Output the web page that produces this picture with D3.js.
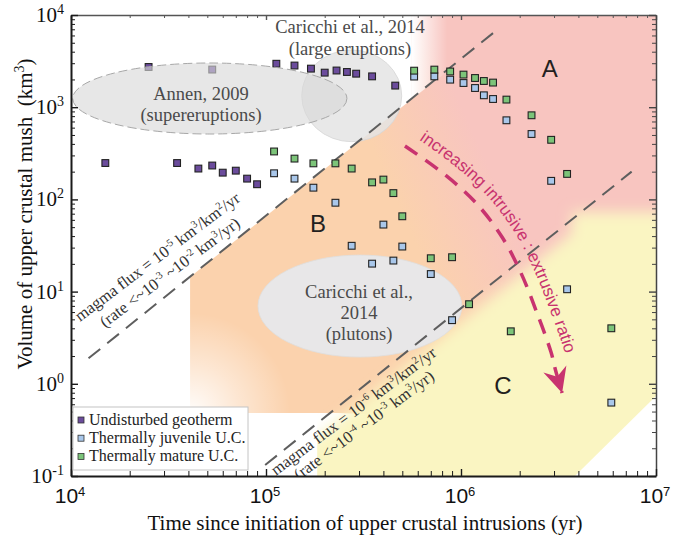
<!DOCTYPE html>
<html>
<head>
<meta charset="utf-8">
<script src="https://cdn.jsdelivr.net/npm/d3@7"></script>
<style>
  body { margin: 0; background: #fff; }
  svg { display: block; }
</style>
</head>
<body>
<div class="mush-chart"></div>
<script>
// ---- data: [time since initiation (yr), volume of mush (km3)] ----
const undisturbed = [
  [1.5e4, 248], [2.5e4, 2730], [3.5e4, 248], [4.5e4, 216], [5.3e4, 2560], [5.3e4, 233],
  [6.0e4, 195], [7.0e4, 205], [8.0e4, 168], [9.0e4, 146],
  [1.13e5, 2960], [1.4e5, 2830], [1.7e5, 2620], [2.0e5, 2370], [2.3e5, 2500],
  [2.6e5, 2410], [2.9e5, 2310], [3.5e5, 2160], [4.6e5, 1715]
];
const juvenile = [
  [1.1e5, 192], [1.4e5, 168], [1.75e5, 134], [2.27e5, 92], [2.75e5, 31.4], [3.5e5, 20.1],
  [4.0e5, 53.3], [4.5e5, 21.7], [5.0e5, 30.8], [5.75e5, 2150], [7.0e5, 15.5], [7.3e5, 2160],
  [8.8e5, 1990], [9.0e5, 4.9], [1.03e6, 1830], [1.18e6, 1615], [1.31e6, 1346], [1.46e6, 1227],
  [1.71e6, 721], [2.3e6, 512], [2.9e6, 159], [3.5e6, 10.6], [5.9e6, 0.625]
];
const mature = [
  [1.1e5, 331], [1.4e5, 277], [1.75e5, 246], [2.27e5, 246], [2.75e5, 216], [3.5e5, 153],
  [4.0e5, 164], [4.5e5, 117], [5.0e5, 65.6], [5.75e5, 2490], [7.0e5, 23.0], [7.3e5, 2557],
  [8.8e5, 2440], [9.0e5, 23.6], [1.03e6, 2257], [1.1e6, 7.3], [1.18e6, 2073], [1.31e6, 1924],
  [1.46e6, 1849], [1.71e6, 1209], [1.8e6, 3.71], [2.3e6, 817], [2.9e6, 443], [3.5e6, 189],
  [5.9e6, 4.0]
];
const seriesNames = ['Undisturbed geotherm', 'Thermally juvenile U.C.', 'Thermally mature U.C.'];
const seriesColors = ['#6b4c9c', '#a9c7ea', '#7cc479'];

const xMajor = [1e4, 1e5, 1e6, 1e7];
const xTickSup = ['4', '5', '6', '7'];
const yMajor = [1e-1, 1e0, 1e1, 1e2, 1e3, 1e4];
const yTickSup = ['-1', '0', '1', '2', '3', '4'];

// magma flux lines, end points
const fluxHigh = [[1.23e4, 1.89], [1.49e6, 6590]];
const fluxLow = [[9.9e4, 0.1316], [7.5e6, 200]];
const fluxHighText = [['magma flux = 10', '^-5', ' km', '^3', '/km', '^2', '/yr'],
                      ['(rate <~10', '^-3', ' ~10', '^-2', ' km', '^3', '/yr)']];
const fluxLowText = [['magma flux = 10', '^-6', ' km', '^3', '/km', '^2', '/yr'],
                     ['(rate <~10', '^-4', ' ~10', '^-3', ' km', '^3', '/yr)']];
const fluxHighTextAt = [[1.112e4, 4.68], [1.494e4, 4.03]];
const fluxLowTextAt = [[1.125e5, 0.1], [1.477e5, 0.0891]];

// shaded regions (data units)
const regionAB = [[4.08e4, 14.4], [5.6e5, 1230], [5.6e5, 1e4], [1e7, 1e4], [1e7, 8.1],
                  [2.0e6, 0.405], [2.34e5, 0.4825], [4.08e4, 0.4825]];
const pinkFade = [[5.6e5, 1e4], [8.5e5, 1e4], [8.5e5, 2439], [5.6e5, 1230]];
const regionC = [[1.18e5, 0.1252], [3.7e6, 43.2], [3.7e6, 73], [1.68e7, 73], [1.68e7, 0.0333], [1.18e5, 0.0333]];
const regionCEdge = [[1.83e5, 1e4], [1e7, 1e4], [1e7, 0.737], [3.84e6, 0.1], [1.83e5, 0.1]];

// literature fields: [tMin, tMax], [vMin, vMax]
const annenBox = { t: [1.02e4, 2.6e5], v: [512, 3016] };
const largeEruptBox = { t: [1.525e5, 4.965e5], v: [422.6, 4173] };
const plutonBox = { t: [9.1e4, 1.01e6], v: [1.95, 24.9] };

const annenLabel = { at: [4.642e4, 1197], lines: ['Annen, 2009', '(supereruptions)'] };
const largeEruptLabel = { at: [2.697e5, 6380], lines: ['Caricchi et al., 2014', '(large eruptions)'] };
const plutonLabel = { at: [3.0e5, 8.52], lines: ['Caricchi et al.,', '2014', '(plutons)'] };
const regionLetters = [['A', 2.85e6, 2110], ['B', 1.848e5, 44.6], ['C', 1.642e6, 0.775]];

const arrowPath = [[5.16e5, 380], [8.18e5, 188.6], [1.194e6, 91.4], [1.623e6, 39.1], [2.031e6, 15.9],
                   [2.453e6, 5.86], [2.894e6, 2.21], [3.071e6, 1.34], [3.3e6, 0.795]];
const arrowText = 'increasing intrusive : extrusive ratio';

// ---- layout ----
const W = 673, H = 544;
const margin = { top: 15, right: 17, bottom: 68, left: 71 };
const serif = '"Liberation Serif", "Times New Roman", serif';
const sans = '"Liberation Sans", Arial, sans-serif';
const magenta = '#c8336f';

const x = d3.scaleLog().domain([1e4, 1e7]).range([margin.left, W - margin.right]);
const y = d3.scaleLog().domain([1e-1, 1e4]).range([H - margin.bottom, margin.top]);
const px = d => [x(d[0]), y(d[1])];

const svg = d3.select('.mush-chart').append('svg').attr('width', W).attr('height', H);
const defs = svg.append('defs');

defs.append('clipPath').attr('id', 'plotClip').append('rect')
  .attr('x', x(1e4)).attr('y', y(1e4))
  .attr('width', x(1e7) - x(1e4)).attr('height', y(1e-1) - y(1e4));
defs.append('clipPath').attr('id', 'cEdge').append('polygon')
  .attr('points', regionCEdge.map(px).join(' '));

const abGrad = defs.append('linearGradient').attr('id', 'abGrad')
  .attr('gradientUnits', 'userSpaceOnUse')
  .attr('x1', 398).attr('y1', 205).attr('x2', 488).attr('y2', 165);
abGrad.append('stop').attr('offset', 0).attr('stop-color', '#fbd2ad');
abGrad.append('stop').attr('offset', 1).attr('stop-color', '#f8c5c0');

const fadeGrad = defs.append('linearGradient').attr('id', 'fadeGrad');
fadeGrad.append('stop').attr('offset', 0).attr('stop-color', '#fff').attr('stop-opacity', 1);
fadeGrad.append('stop').attr('offset', 1).attr('stop-color', '#fff').attr('stop-opacity', 0);

const cornerGrad = defs.append('radialGradient').attr('id', 'cornerGrad');
cornerGrad.append('stop').attr('offset', 0).attr('stop-color', '#fff').attr('stop-opacity', 0.95);
cornerGrad.append('stop').attr('offset', 0.5).attr('stop-color', '#fff').attr('stop-opacity', 0.45);
cornerGrad.append('stop').attr('offset', 1).attr('stop-color', '#fff').attr('stop-opacity', 0);

defs.append('filter').attr('id', 'soft')
  .attr('filterUnits', 'userSpaceOnUse').attr('x', 0).attr('y', 0).attr('width', W).attr('height', H)
  .append('feGaussianBlur').attr('stdDeviation', 7);

defs.append('marker').attr('id', 'arrowHead')
  .attr('markerUnits', 'userSpaceOnUse').attr('viewBox', '-26 -14 28 28')
  .attr('markerWidth', 28).attr('markerHeight', 28).attr('refX', 0).attr('refY', 0)
  .attr('orient', 'auto')
  .append('path').attr('d', 'M0,0 L-25,-12 L-17,0 L-25,12 Z').attr('fill', magenta);

// superscript helper: parts starting with ^ are raised
function richText(sel, parts, supSize, shift) {
  let up = false;
  parts.forEach(p => {
    const sup = p.startsWith('^');
    const t = sel.append('tspan').text(sup ? p.slice(1) : p);
    if (sup) {
      t.attr('font-size', supSize);
      if (!up) { t.attr('dy', -shift); up = true; }
    } else if (up) { t.attr('dy', shift); up = false; }
  });
}

// ---- background regions ----
const plot = svg.append('g').attr('clip-path', 'url(#plotClip)');
plot.append('polygon').attr('points', regionAB.map(px).join(' ')).attr('fill', 'url(#abGrad)');
const corner = px(regionAB[7]);
plot.append('circle').attr('cx', corner[0]).attr('cy', corner[1]).attr('r', 100).attr('fill', 'url(#cornerGrad)');
plot.append('polygon').attr('points', pinkFade.map(px).join(' '))
  .attr('fill', 'url(#fadeGrad)');
plot.append('g').attr('clip-path', 'url(#cEdge)')
  .append('g').attr('filter', 'url(#soft)')
  .append('polygon').attr('points', regionC.map(px).join(' ')).attr('fill', '#faf5c2');

function ellipse(g, box) {
  const x0 = x(box.t[0]), x1 = x(box.t[1]), y0 = y(box.v[1]), y1 = y(box.v[0]);
  return g.append('ellipse').attr('cx', (x0 + x1) / 2).attr('cy', (y0 + y1) / 2)
    .attr('rx', (x1 - x0) / 2).attr('ry', (y1 - y0) / 2);
}
ellipse(plot, plutonBox).attr('fill', '#e8e7e8').attr('stroke', '#dedede').attr('stroke-width', 0.8);
ellipse(plot, largeEruptBox).attr('fill', '#e4e4e4').attr('fill-opacity', 0.85)
  .attr('stroke', '#d6d6d6').attr('stroke-width', 0.8);

// ---- flux lines ----
const line = d3.line().x(d => x(d[0])).y(d => y(d[1]));
[fluxHigh, fluxLow].forEach(f => {
  plot.append('path').attr('d', line(f)).attr('fill', 'none')
    .attr('stroke', '#5e5e5e').attr('stroke-width', 2).attr('stroke-dasharray', '15 9');
});
// labels run a little flatter than the lines
function fluxLabels(f, texts, ats) {
  const a = Math.atan2(y(f[1][1]) - y(f[0][1]), x(f[1][0]) - x(f[0][0])) * 180 / Math.PI + 1.8;
  texts.forEach((parts, i) => {
    const [tx, ty] = px(ats[i]);
    const t = plot.append('text').attr('x', tx).attr('y', ty)
      .attr('transform', `rotate(${a},${tx},${ty})`)
      .attr('font-family', serif).attr('font-size', 16.5).attr('fill', '#333');
    richText(t, parts, 10.5, 6);
  });
}
fluxLabels(fluxHigh, fluxHighText, fluxHighTextAt);
fluxLabels(fluxLow, fluxLowText, fluxLowTextAt);

// ---- points ----
const sq = 6.8;
const pts = svg.append('g');
[undisturbed, juvenile, mature].forEach((s, i) => {
  pts.append('g').selectAll('rect').data(s).join('rect')
    .attr('x', d => x(d[0]) - sq / 2).attr('y', d => y(d[1]) - sq / 2)
    .attr('width', sq).attr('height', sq)
    .attr('fill', seriesColors[i]).attr('stroke', '#222').attr('stroke-width', 1.1);
});

// Annen field sits over the points
ellipse(svg, annenBox).attr('fill', '#d9d9d9').attr('fill-opacity', 0.62)
  .attr('stroke', '#a8a8a8').attr('stroke-width', 1).attr('stroke-dasharray', '9 4');

// ---- labels ----
[[annenLabel, 21.5], [largeEruptLabel, 22], [plutonLabel, 21]].forEach(([lab, lh]) => {
  const [lx, ly] = px(lab.at);
  lab.lines.forEach((s, i) => {
    svg.append('text').attr('x', lx).attr('y', ly + i * lh).attr('text-anchor', 'middle')
      .attr('font-family', serif).attr('font-size', 18.5).attr('fill', '#4a4a4a').text(s);
  });
});
regionLetters.forEach(([s, t, v]) => {
  svg.append('text').attr('x', x(t)).attr('y', y(v)).attr('text-anchor', 'middle')
    .attr('font-family', sans).attr('font-size', 24).attr('fill', '#231f20').text(s);
});

// ---- arrow ----
const arrowPx = arrowPath.map(px);
const curve = d3.line().curve(d3.curveCatmullRom);
svg.append('path').attr('d', curve(arrowPx)).attr('fill', 'none')
  .attr('stroke', magenta).attr('stroke-width', 3.5).attr('stroke-dasharray', '15 10')
  .attr('marker-end', 'url(#arrowHead)');
const off = 13;
const textPx = arrowPx.slice(0, -1).map((p, i, a) => {
  const p0 = a[Math.max(i - 1, 0)], p1 = a[Math.min(i + 1, a.length - 1)];
  const dx = p1[0] - p0[0], dy = p1[1] - p0[1], len = Math.hypot(dx, dy);
  return [p[0] + dy / len * off, p[1] - dx / len * off];
});
defs.append('path').attr('id', 'arrowTextPath').attr('d', curve(textPx));
svg.append('text').attr('font-family', sans).attr('font-size', 17).attr('fill', magenta)
  .append('textPath').attr('href', '#arrowTextPath').attr('startOffset', 8).text(arrowText);

// ---- axes ----
const xMinor = x.ticks().filter(d => !xMajor.includes(d));
const yMinor = y.ticks().filter(d => !yMajor.some(m => Math.abs(m - d) / m < 1e-9));
const bottom = H - margin.bottom, right = W - margin.right;

function drawAxis(axisFn, scale, pos, majors, minors, majLen, minLen, color, width) {
  const gMin = svg.append('g').attr('transform', pos)
    .call(axisFn(scale).tickValues(minors).tickSize(-minLen).tickFormat(''));
  gMin.select('.domain').remove();
  gMin.selectAll('.tick line').attr('stroke', color).attr('stroke-width', 1);
  const gMaj = svg.append('g').attr('transform', pos)
    .call(axisFn(scale).tickValues(majors).tickSizeInner(-majLen).tickSizeOuter(0).tickFormat(''));
  gMaj.select('.domain').attr('stroke', color).attr('stroke-width', width);
  gMaj.selectAll('.tick line').attr('stroke', color).attr('stroke-width', 1.4);
  return gMaj;
}
drawAxis(d3.axisTop, x, `translate(0,${margin.top})`, xMajor, xMinor, 5, 3, '#555', 1.5);
drawAxis(d3.axisRight, y, `translate(${right},0)`, yMajor, yMinor, 7, 4, '#444', 1.5);
drawAxis(d3.axisBottom, x, `translate(0,${bottom})`, xMajor, xMinor, 7, 5, '#1a1a1a', 2);
drawAxis(d3.axisLeft, y, `translate(${margin.left},0)`, yMajor, yMinor, 7, 4, '#1a1a1a', 2);

xMajor.forEach((d, i) => {
  const t = svg.append('text').attr('x', x(d) - 1).attr('y', bottom + 27).attr('text-anchor', 'middle')
    .attr('font-family', sans).attr('font-size', 21).attr('fill', '#111');
  richText(t, ['10', '^' + xTickSup[i]], 13, 7);
});
yMajor.forEach((d, i) => {
  const t = svg.append('text').attr('x', margin.left - 7).attr('y', y(d) + 7).attr('text-anchor', 'end')
    .attr('font-family', serif).attr('font-size', 21).attr('fill', '#111');
  richText(t, ['10', '^' + yTickSup[i]], 14, 8);
});

svg.append('text').attr('x', 365).attr('y', 530).attr('text-anchor', 'middle')
  .attr('font-family', serif).attr('font-size', 21).attr('fill', '#111')
  .text('Time since initiation of upper crustal intrusions (yr)');
const yTitle = svg.append('text').attr('transform', 'translate(32,214) rotate(-90)')
  .attr('text-anchor', 'middle').attr('font-family', serif).attr('font-size', 21)
  .attr('fill', '#111').style('white-space', 'pre');
richText(yTitle, ['Volume of upper crustal mush  (km', '^3', ')'], 14, 8);

// ---- legend ----
const legend = svg.append('g').attr('transform', 'translate(73,407)');
legend.append('rect').attr('width', 175).attr('height', 63).attr('fill', '#fff')
  .attr('stroke', '#c4c4c4').attr('stroke-width', 1);
seriesNames.forEach((n, i) => {
  const base = 17.5 + i * 18.2;
  legend.append('rect').attr('x', 5).attr('y', base - 7.5).attr('width', 6).attr('height', 6)
    .attr('fill', seriesColors[i]).attr('stroke', '#333').attr('stroke-width', 0.8);
  legend.append('text').attr('x', 16).attr('y', base).attr('font-family', serif)
    .attr('font-size', 16).attr('fill', '#222').text(n);
});
</script>
</body>
</html>
